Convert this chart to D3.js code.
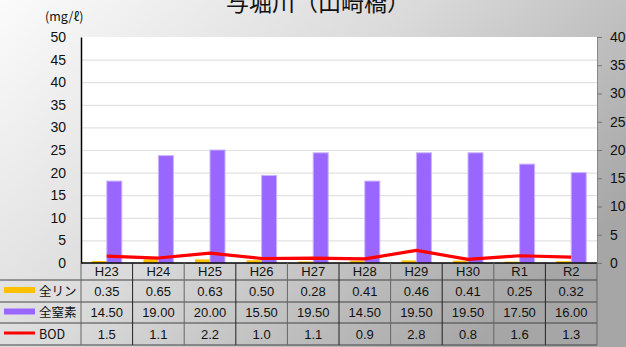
<!DOCTYPE html>
<html><head><meta charset="utf-8">
<script src="https://cdn.jsdelivr.net/npm/d3@7"></script>
<style>html,body{margin:0;padding:0;overflow:hidden;}svg{display:block;}</style>
</head><body>
<script>
const title = "与堀川（山崎橋）";
const categories = ["H23","H24","H25","H26","H27","H28","H29","H30","R1","R2"];
const phosphorus = [0.35,0.65,0.63,0.50,0.28,0.41,0.46,0.41,0.25,0.32];
const nitrogen = [14.50,19.00,20.00,15.50,19.50,14.50,19.50,19.50,17.50,16.00];
const bod = [1.5,1.1,2.2,1.0,1.1,0.9,2.8,0.8,1.6,1.3];
const phosphorusLabels = ["0.35","0.65","0.63","0.50","0.28","0.41","0.46","0.41","0.25","0.32"];
const nitrogenLabels = ["14.50","19.00","20.00","15.50","19.50","14.50","19.50","19.50","17.50","16.00"];
const bodLabels = ["1.5","1.1","2.2","1.0","1.1","0.9","2.8","0.8","1.6","1.3"];
const leftTicks = [0,5,10,15,20,25,30,35,40,45,50];
const rightTicks = [0,5,10,15,20,25,30,35,40];
const seriesNames = ["全リン","全窒素","BOD"];

const W = 626, H = 347;
const m = {left: 81, right: 597, top: 37, bottom: 263};
const svg = d3.select("body").append("svg").attr("width", W).attr("height", H);
const defs = svg.append("defs");
const g1 = defs.append("linearGradient").attr("id","bg").attr("x1","0").attr("y1","0").attr("x2","1").attr("y2","0.6");
g1.append("stop").attr("offset","0").attr("stop-color","#fbfbfb");
g1.append("stop").attr("offset","0.5").attr("stop-color","#dadada");
g1.append("stop").attr("offset","1").attr("stop-color","#a6a6a6");
svg.append("rect").attr("width",W).attr("height",H).attr("fill","url(#bg)");

const x = d3.scaleBand().domain(categories).range([m.left, m.right]);
const yL = d3.scaleLinear().domain([0,50]).range([m.bottom, m.top]);
const yR = d3.scaleLinear().domain([0,40]).range([m.bottom, m.top]);

// plot area
svg.append("rect").attr("x",m.left).attr("y",m.top).attr("width",m.right-m.left).attr("height",m.bottom-m.top).attr("fill","#ffffff");
// grid
svg.append("g").selectAll("line").data(leftTicks.filter(d=>d>0 && d<50)).join("line")
  .attr("x1",m.left).attr("x2",m.right).attr("y1",d=>yL(d)+0.5).attr("y2",d=>yL(d)+0.5)
  .attr("stroke","#e2e2e2").attr("stroke-width",1.2);

const bw = 15;
// phosphorus bars (gold)
svg.append("g").selectAll("rect").data(phosphorus).join("rect")
  .attr("x",(d,i)=>x(categories[i])+x.bandwidth()/2-bw)
  .attr("y",d=>yR(d)).attr("width",bw).attr("height",d=>m.bottom-yR(d))
  .attr("fill","#ffc000");
// nitrogen bars (purple)
svg.append("g").selectAll("rect").data(nitrogen).join("rect")
  .attr("x",(d,i)=>x(categories[i])+x.bandwidth()/2)
  .attr("y",d=>yR(d)).attr("width",bw).attr("height",d=>m.bottom-yR(d))
  .attr("fill","#9966ff").attr("stroke","#c9b3ff").attr("stroke-width",1);
// BOD line
const line = d3.line().x((d,i)=>x(categories[i])+x.bandwidth()/2).y(d=>yL(d));
svg.append("path").datum(bod).attr("d",line).attr("fill","none").attr("stroke","#ff0000").attr("stroke-width",3.2).attr("stroke-linejoin","round");

// axes
const font = "'Liberation Sans', Arial, sans-serif";
const la = svg.append("g").attr("transform",`translate(${m.left},0)`)
  .call(d3.axisLeft(yL).tickValues(leftTicks).tickSize(0).tickPadding(15));
la.select(".domain").attr("stroke","#000").attr("stroke-width",1.5);
la.selectAll("text").attr("font-family",font).attr("font-size",14).attr("fill","#111");
const ra = svg.append("g").attr("transform",`translate(${m.right},0)`)
  .call(d3.axisRight(yR).tickValues(rightTicks).tickSize(5).tickPadding(8));
ra.select(".domain").attr("stroke","#888");
ra.selectAll("line").attr("stroke","#777");
ra.selectAll("text").attr("font-family",font).attr("font-size",14).attr("fill","#111");
// bottom axis line
svg.append("line").attr("x1",m.left).attr("x2",m.right).attr("y1",m.bottom).attr("y2",m.bottom).attr("stroke","#000").attr("stroke-width",1.5);

// y unit
svg.append("text").attr("x",45).attr("y",21).attr("font-family","'Noto Sans CJK JP', sans-serif").attr("font-size",12.5).attr("fill","#111").text("(mg/ℓ)");

// title (cut at top edge, as in the reference)
svg.append("text").attr("x",318).attr("y",11).attr("text-anchor","middle").attr("font-family","'Noto Sans CJK JP', sans-serif").attr("font-size",23).attr("fill","#111").text(title);

// table
const rows = [263, 280, 302, 323, 345];
const tbl = svg.append("g");
tbl.selectAll("line.h").data(rows.slice(1)).join("line").attr("class","h")
  .attr("x1",0).attr("x2",m.right).attr("y1",d=>d).attr("y2",d=>d)
  .attr("stroke","#444").attr("stroke-width",1);
const vx = categories.map(c=>x(c)).concat([m.right]);
tbl.selectAll("line.v").data(vx).join("line").attr("class","v")
  .attr("x1",d=>d).attr("x2",d=>d).attr("y1",m.bottom).attr("y2",rows[4])
  .attr("stroke",(d,i)=>(i%2===1)?"#222":"#666").attr("stroke-width",1);
tbl.selectAll("text.cat").data(categories).join("text").attr("class","cat")
  .attr("x",d=>x(d)+x.bandwidth()/2).attr("y",(rows[0]+rows[1])/2+4.5)
  .attr("text-anchor","middle").attr("font-family",font).attr("font-size",13).attr("fill","#111").text(d=>d);
const rowLabels = [phosphorusLabels, nitrogenLabels, bodLabels];
rowLabels.forEach((labels, r) => {
  tbl.append("g").selectAll("text").data(labels).join("text")
    .attr("x",(d,i)=>x(categories[i])+x.bandwidth()/2).attr("y",(rows[r+1]+rows[r+2])/2+4.5)
    .attr("text-anchor","middle").attr("font-family",font).attr("font-size",13).attr("fill","#111").text(d=>d);
});
const legColors = ["#ffc000","#9966ff","#ff0000"];
seriesNames.forEach((n, r) => {
  const cy = (rows[r+1]+rows[r+2])/2;
  if (r < 2) {
    tbl.append("rect").attr("x",4).attr("y",cy-4).attr("width",31).attr("height",6).attr("fill",legColors[r]);
  } else {
    tbl.append("line").attr("x1",4).attr("x2",35).attr("y1",cy-1).attr("y2",cy-1).attr("stroke",legColors[r]).attr("stroke-width",3);
  }
  tbl.append("text").attr("x",39).attr("y",cy+4.5).attr("font-family","'Noto Sans CJK JP', sans-serif").attr("font-size",12.5).attr("fill","#111").text(n);
});
</script>
</body></html>
